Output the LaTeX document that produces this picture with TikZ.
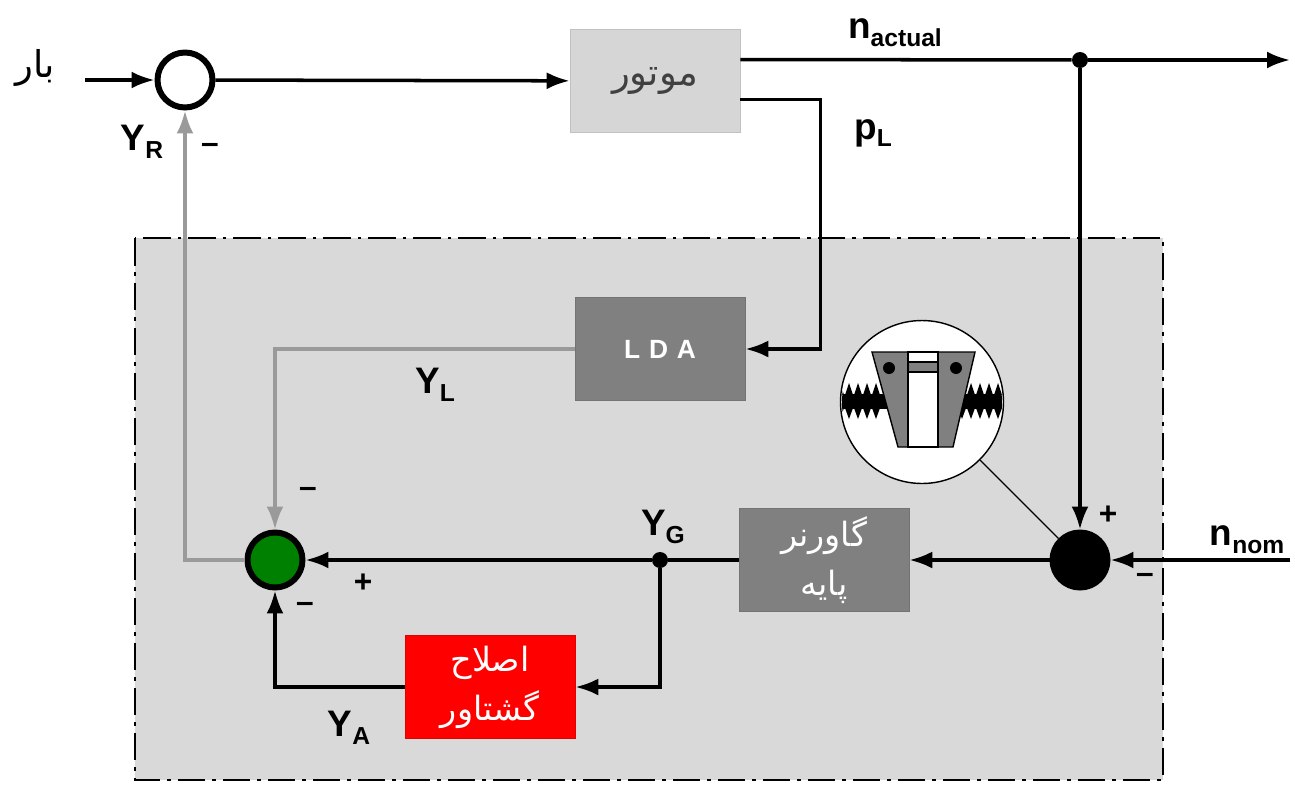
\documentclass[tikz,border=0pt]{standalone}
\usepackage{fontspec}
\setmainfont{Liberation Sans}
\newfontfamily\arabicfont[Script=Arabic]{DejaVu Sans}
\TeXXeTstate=1
\usetikzlibrary{arrows.meta,positioning,calc}

\definecolor{panelgray}{HTML}{D9D9D9}
\definecolor{motorgray}{HTML}{D6D6D6}
\definecolor{blockgray}{HTML}{808080}
\definecolor{sumgreen}{HTML}{008000}
\definecolor{fbgray}{HTML}{9A9A9A}

% signal name with subscript, e.g. \sig{Y}{R}
\newcommand{\sig}[2]{\textbf{#1\raisebox{-0.4ex}{\fontsize{14}{14}\selectfont #2}}}
% right-to-left label
\newcommand{\fa}[1]{{\arabicfont\beginR #1\endR}}

\begin{document}
\begin{tikzpicture}[x=0.02cm,y=-0.02cm,
 every node/.style={font=\fontsize{21}{25}\selectfont},
 wire/.style={line width=2pt},
 sigarrow/.style={wire,-{Latex[length=4.6mm,width=3.4mm]}},
 fbarrow/.style={sigarrow,draw=fbgray},
 blk/.style={minimum width=3.4cm,minimum height=2.06cm,inner sep=0pt,align=center,draw=#1!90!black,fill=#1},
 sum/.style={circle,draw,line width=3.4pt,minimum size=1.1cm,inner sep=0pt},
 dot/.style={circle,fill,inner sep=0pt,minimum size=0.32cm},
 sgn/.style={font=\bfseries\fontsize{18}{20}\selectfont}]
\useasboundingbox (0,0) rectangle (1295,785);

% governor panel
\draw[fill=panelgray,line width=1.4pt,dash pattern=on 0.55cm off 0.14cm on 0.07cm off 0.14cm]
 (135,238) rectangle (1163,780);

% blocks and summing points
\node[sum,fill=white] (s1) at (185,80) {};
\node[blk=motorgray,text=black!75] (motor) at (655,81) {\fa{موتور}};
\node[blk=blockgray,text=white,font=\bfseries\fontsize{15}{17}\selectfont] (lda) at (660,349) {L\,\,D\,\,A};
\node[blk=blockgray,text=white,font=\fontsize{19}{28}\selectfont] (gov) at (824,560) {\fa{گاورنر}\\\fa{پایه}};
\node[blk=red,text=white,font=\fontsize{19}{28}\selectfont] (corr) at (490,687) {\fa{اصلاح}\\\fa{گشتاور}};
\node[sum,fill=sumgreen] (s2) at (275,560) {};
\node[sum,fill=black] (s3) at (1080,560) {};
\node[dot] (tap) at (1080,60) {};
\node[dot] (yg) at (660,560) {};
\coordinate (load) at (85,80);
\coordinate (out) at (1290,60);
\coordinate (nom) at (1290,560);

% forward path
\draw[sigarrow] (load) -- (s1);
\draw[sigarrow] (s1) -- (motor);
\draw[wire] ([yshift=0.43cm]motor.east) -- (tap);
\draw[sigarrow] (tap) -- (out);
\draw[sigarrow] (tap) -- (s3);
\draw[sigarrow] ([yshift=-0.37cm]motor.east) -| ($(lda.east)+(75,0)$) -- (lda);
\draw[sigarrow] (nom) -- (s3);
\draw[sigarrow] (s3) -- (gov);
\draw[wire] (gov) -- (yg);
\draw[sigarrow] (yg) -- (s2);
\draw[sigarrow] (yg) |- (corr);
\draw[sigarrow] (corr) -| (s2);

% feedback paths
\draw[fbarrow] (lda) -| (s2);
\draw[fbarrow] (s2) -| (s1);

% flyweight detail
\node[circle,draw,fill=white,line width=0.8pt,minimum size=3.26cm,inner sep=0pt] (lens) at (922,402) {};
\draw[line width=0.8pt] (lens) -- (s3);
\begin{scope}
\clip (922,402) circle[radius=80];
\fill (835,394) rectangle (888,409);
\fill (956,394) rectangle (1010,409);
\foreach \x in {836,845,...,880} {
 \fill (\x,395) -- (\x+4,383) -- (\x+8,395) -- cycle;
 \fill (\x,408) -- (\x+4,419) -- (\x+8,408) -- cycle;
}
\foreach \x in {958,967,...,1002} {
 \fill (\x,395) -- (\x+4,383) -- (\x+8,395) -- cycle;
 \fill (\x,408) -- (\x+4,419) -- (\x+8,408) -- cycle;
}
\end{scope}
\draw[fill=blockgray,line width=0.8pt] (872,352) -- (975,352) -- (953,447) -- (898,447) -- cycle;
\draw[fill=white,line width=0.8pt] (908,352) rectangle (938,447);
\draw[fill=blockgray,line width=0.6pt] (908,362) rectangle (938,372);
\fill (889,368) circle[radius=6] (956,368) circle[radius=6];

% labels
\node at (35,68) {\fa{بار}};
\node at (895,33) {\sig{n}{actual}};
\node at (873,133) {\sig{p}{L}};
\node at (142,142) {\sig{Y}{R}};
\node at (435,385) {\sig{Y}{L}};
\node at (663,527) {\sig{Y}{G}};
\node at (349,728) {\sig{Y}{A}};
\node at (1247,540) {\sig{n}{nom}};
\node[sgn] at (210,148) {--};
\node[sgn] at (308,492) {--};
\node[sgn] at (363,583) {+};
\node[sgn] at (305,607) {--};
\node[sgn] at (1108,515) {+};
\node[sgn] at (1145,578) {--};
\end{tikzpicture}
\end{document}
